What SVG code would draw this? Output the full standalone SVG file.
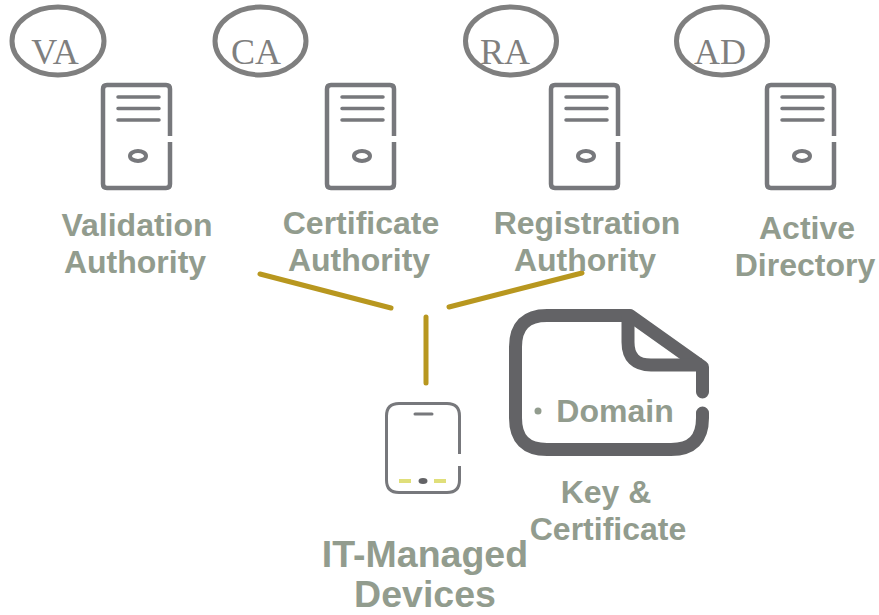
<svg xmlns="http://www.w3.org/2000/svg" width="879" height="615" viewBox="0 0 879 615">
<style>
.lbl{font-family:"Liberation Sans",Arial,sans-serif;font-weight:700;font-size:32px;fill:#929c8e;text-anchor:middle}
.big{font-size:37.500px}
.abbr{font-family:"Liberation Serif","Times New Roman",serif;font-size:36px;fill:#7f7f7f;text-anchor:middle}
.oval{fill:none;stroke:#7f7f7f;stroke-width:5}
.srv{fill:none;stroke:#77787b;stroke-width:4.500;stroke-linejoin:round}
.srvl{fill:none;stroke:#77787b;stroke-width:3.500;stroke-linecap:round}
.conn{fill:none;stroke:#b8971f;stroke-width:5;stroke-linecap:round}
.soft{filter:url(#soft)}
</style>
<defs>
<filter id="soft" x="-5%" y="-5%" width="110%" height="110%"><feGaussianBlur stdDeviation="0.700"/></filter>
<g id="server">
<path class="srv" d="M69 53V6Q69 2 65 2H6Q2 2 2 6V101Q2 105 6 105H65Q69 105 69 101V59"/>
<path class="srvl" d="M17 14H58M17 25.500H58M17 37H58"/>
<ellipse cx="37" cy="73" rx="8" ry="5" fill="none" stroke="#77787b" stroke-width="4"/>
</g>
</defs>
<g id="connectors">
<line class="conn" x1="260" y1="274" x2="391" y2="308"/>
<line class="conn" x1="449" y1="307" x2="582" y2="273"/>
<line class="conn" x1="426" y1="317" x2="426" y2="383"/>
</g>
<g id="va"><ellipse class="oval" cx="58" cy="41" rx="46" ry="34"/><text class="abbr" x="55" y="64">VA</text></g>
<g id="ca"><ellipse class="oval" cx="260.500" cy="41" rx="45.500" ry="34"/><text class="abbr" x="256" y="64">CA</text></g>
<g id="ra"><ellipse class="oval" cx="511" cy="41" rx="45.500" ry="34"/><text class="abbr" x="505" y="64">RA</text></g>
<g id="ad"><ellipse class="oval" cx="722" cy="41" rx="45.500" ry="34"/><text class="abbr" x="720" y="64">AD</text></g>
<g id="validation-authority"><use class="soft" href="#server" x="101" y="83"/><text class="lbl" x="137" y="236">Validation</text><text class="lbl" x="135" y="273">Authority</text></g>
<g id="certificate-authority"><use class="soft" href="#server" x="325" y="83"/><text class="lbl" x="361" y="234">Certificate</text><text class="lbl" x="359" y="271">Authority</text></g>
<g id="registration-authority"><use class="soft" href="#server" x="549" y="83"/><text class="lbl" x="587" y="234">Registration</text><text class="lbl" x="585" y="271">Authority</text></g>
<g id="active-directory"><use class="soft" href="#server" x="765" y="83"/><text class="lbl" x="807" y="239">Active</text><text class="lbl" x="805" y="276">Directory</text></g>
<g id="it-managed-devices">
<g class="soft">
<path d="M459.500 454V416Q459.500 403.500 447 403.500H399Q386.500 403.500 386.500 416V480Q386.500 492.500 399 492.500H447Q459.500 492.500 459.500 480V466" fill="none" stroke="#77787b" stroke-width="3"/>
<path d="M415 414H432" stroke="#77787b" stroke-width="3" stroke-linecap="round"/>
<path d="M399 481H411M434 481H446" stroke="#e0df7a" stroke-width="4"/>
<ellipse cx="423" cy="481" rx="4.500" ry="3" fill="#636466"/>
</g>
<text class="lbl big" x="425" y="567">IT-Managed</text>
<text class="lbl big" x="425" y="606.500">Devices</text>
</g>
<g id="key-certificate">
<g class="soft">
<path d="M702.500 392V367L630 315.500H547Q515.500 315.500 515.500 347V418Q515.500 449.500 547 449.500H671Q702.500 449.500 702.500 418V413" fill="none" stroke="#636466" stroke-width="13" stroke-linecap="round" stroke-linejoin="round"/>
<path d="M628 316V342Q628 365 651 365H702" fill="none" stroke="#636466" stroke-width="13" stroke-linejoin="round"/>
</g>
<circle cx="538" cy="411" r="3.500" fill="#929c8e"/>
<text class="lbl" x="615" y="422">Domain</text>
<text class="lbl" x="606" y="503">Key &amp;</text>
<text class="lbl" x="608" y="540">Certificate</text>
</g>
</svg>
